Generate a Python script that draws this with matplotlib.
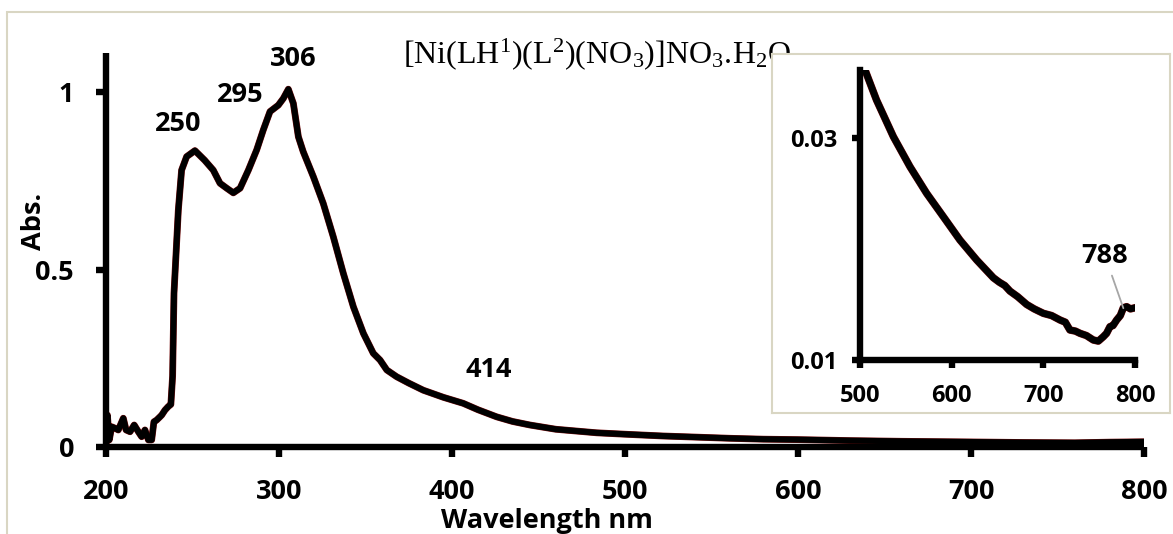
import matplotlib
matplotlib.use("Agg")
import matplotlib.pyplot as plt
from matplotlib.patches import Rectangle

# ---- data ----
wl_main = [200, 200.8, 201.9, 203.3, 205.2, 207.1, 210, 211.6, 213.9, 216.3, 218.7, 220.6,
           222.5, 224.5, 226.4, 227.7, 229.3, 231.2, 232.2, 234.1, 236, 237.5, 238.5, 239.3,
           241.8, 243.7, 246.6, 251.4, 257, 262, 265.9, 269.8, 273.6, 277.5, 282.3, 287.1,
           290.9, 294.8, 299.6, 302.5, 305.4, 308.3, 311.2, 314, 319.9, 325.6, 331.4, 337.2,
           343, 348.8, 354.5, 358.4, 362.3, 368, 375, 383.4, 395, 406.5, 415, 425.8, 435,
           445, 460, 483.6, 500, 522, 540, 560.7, 580, 600, 630, 660, 700, 730, 760, 780, 800]
abs_main = [0.005, 0.090, 0.020, 0.057, 0.053, 0.048, 0.081, 0.048, 0.043, 0.062, 0.043,
            0.029, 0.048, 0.020, 0.020, 0.071, 0.076, 0.085, 0.090, 0.104, 0.114, 0.120,
            0.200, 0.433, 0.667, 0.780, 0.818, 0.835, 0.808, 0.780, 0.743, 0.729, 0.716,
            0.729, 0.780, 0.837, 0.893, 0.945, 0.963, 0.982, 1.008, 0.968, 0.874, 0.832,
            0.761, 0.686, 0.592, 0.489, 0.395, 0.320, 0.264, 0.245, 0.217, 0.198, 0.180,
            0.160, 0.140, 0.123, 0.105, 0.085, 0.072, 0.062, 0.050, 0.040, 0.036, 0.031,
            0.028, 0.0245, 0.022, 0.0208, 0.018, 0.016, 0.0142, 0.0127, 0.0118, 0.0136, 0.0147]

wl_inset = [500, 505.5, 518, 536.4, 554.5, 572.7, 590.9, 609, 627.3, 645.5, 652, 658, 663.6,
            672, 681.8, 690, 700, 709, 718.2, 724, 729, 735, 740, 747, 754.5, 760, 765.5,
            769, 772.7, 776, 780, 784, 787.3, 790.9, 795, 800]
abs_inset = [0.0368, 0.0361, 0.0334, 0.0301, 0.0274, 0.0250, 0.0229, 0.0208, 0.0190, 0.0174,
             0.0170, 0.0167, 0.0162, 0.0157, 0.0150, 0.0146, 0.0142, 0.0140, 0.0136, 0.0134,
             0.0127, 0.0126, 0.0124, 0.0122, 0.0118, 0.0117, 0.0121, 0.0124, 0.0130, 0.0131,
             0.0136, 0.0140, 0.0147, 0.0148, 0.0146, 0.0147]

main_xticks = [200, 300, 400, 500, 600, 700, 800]
main_yticks = [0, 0.5, 1]
main_yticklabels = ["0", "0.5", "1"]
inset_xticks = [500, 600, 700, 800]
inset_yticks = [0.01, 0.03]
inset_yticklabels = ["0.01", "0.03"]

peak_labels = ["250", "295", "306", "414"]
peak_label_pos = [(241.6, 0.91), (277.5, 0.993), (308.1, 1.093), (421.4, 0.217)]
inset_peak_label = "788"
inset_peak_text = (767.3, 0.01937)
inset_peak_point = (787.3, 0.01466)

title_text = r"$\mathrm{[Ni(LH^{1})(L^{2})(NO_{3})]NO_{3}.\!H_{2}O}$"

# ---- styling ----
FONT = "Open Sans"
plt.rcParams["font.family"] = [FONT, "DejaVu Sans"]
plt.rcParams["font.weight"] = "normal"
plt.rcParams["mathtext.fontset"] = "custom"
plt.rcParams["mathtext.rm"] = "Liberation Serif"
plt.rcParams["mathtext.it"] = "Liberation Serif:italic"
plt.rcParams["mathtext.bf"] = "Liberation Serif:bold"

W, H = 1173, 534
fig = plt.figure(figsize=(W / 100, H / 100), dpi=100)


def fx(px):
    return px / W


def fy(py):
    return 1 - py / H


# outer frame
fig.patches.append(Rectangle((fx(7), fy(600)), fx(1200 - 7), fy(12) - fy(600),
                             transform=fig.transFigure, fill=False,
                             edgecolor="#d9d6c3", linewidth=1.5))

# main axes
ax = fig.add_axes([fx(106), fy(447), fx(1144) - fx(106), fy(53) - fy(447)])
ax.plot(wl_main, abs_main, color="#7a1010", lw=4.9, solid_joinstyle="round",
        solid_capstyle="round", zorder=2)
ax.plot(wl_main, abs_main, color="black", lw=4.3, solid_joinstyle="round",
        solid_capstyle="round", zorder=3)
ax.set_xlim(200, 800)
ax.set_ylim(0, 1.11)
ax.set_xticks(main_xticks)
ax.set_xticklabels([str(v) for v in main_xticks])
ax.set_yticks(main_yticks)
ax.set_yticklabels(main_yticklabels)
for s in ["top", "right"]:
    ax.spines[s].set_visible(False)
for s in ["left", "bottom"]:
    ax.spines[s].set_linewidth(4.6)
    ax.spines[s].set_capstyle("butt")
ax.tick_params(axis="both", direction="out", length=7, width=4.6,
               labelsize=19.5, color="black")
ax.tick_params(axis="x", pad=16)
ax.tick_params(axis="y", pad=16)
for lab in ax.get_xticklabels() + ax.get_yticklabels():
    lab.set_fontweight("bold")

for txt, (x, y) in zip(peak_labels, peak_label_pos):
    ax.text(x, y, txt, ha="center", va="center", fontsize=19.5, fontweight="bold")

ax.text(fx(403), fy(63), title_text, transform=fig.transFigure, ha="left",
        va="baseline", fontsize=23, clip_on=False)

fig.text(fx(547), fy(528), "Wavelength nm", ha="center", va="baseline",
         fontsize=19.5, fontweight="bold")
fig.text(fx(34), fy(221), "Abs.", ha="center", va="center", rotation=90,
         fontsize=19.5, fontweight="bold")

# inset frame
frame = fig.add_axes([fx(772), fy(413), fx(1170) - fx(772), fy(54) - fy(413)])
frame.set_xticks([])
frame.set_yticks([])
frame.set_facecolor("white")
for s in frame.spines.values():
    s.set_edgecolor("#d9d6c3")
    s.set_linewidth(1.5)

# inset axes
ins = fig.add_axes([fx(860), fy(360), fx(1135) - fx(860), fy(70) - fy(360)])
ins.set_facecolor("none")
ins.plot(wl_inset, abs_inset, color="#7a1010", lw=5.4, solid_joinstyle="round", zorder=2)
ins.plot(wl_inset, abs_inset, color="black", lw=4.8, solid_joinstyle="round", zorder=3)
ins.set_xlim(500, 800)
ins.set_ylim(0.01, 0.0361)
ins.set_xticks(inset_xticks)
ins.set_xticklabels([str(v) for v in inset_xticks])
ins.set_yticks(inset_yticks)
ins.set_yticklabels(inset_yticklabels)
for s in ["top", "right"]:
    ins.spines[s].set_visible(False)
for s in ["left", "bottom"]:
    ins.spines[s].set_linewidth(4.6)
ins.tick_params(axis="both", direction="out", length=5.5, width=4.6,
                labelsize=17, color="black")
ins.tick_params(axis="x", pad=12)
ins.tick_params(axis="y", pad=11)
for lab in ins.get_xticklabels() + ins.get_yticklabels():
    lab.set_fontweight("bold")

ins.annotate(inset_peak_label, xy=inset_peak_point, xytext=inset_peak_text,
             ha="center", va="center", fontsize=19.5, fontweight="bold",
             arrowprops=dict(arrowstyle="-", color="#a6a6a6", lw=1.3,
                             shrinkA=3, shrinkB=0),
             annotation_clip=False)

fig.savefig("out.png", dpi=100)
